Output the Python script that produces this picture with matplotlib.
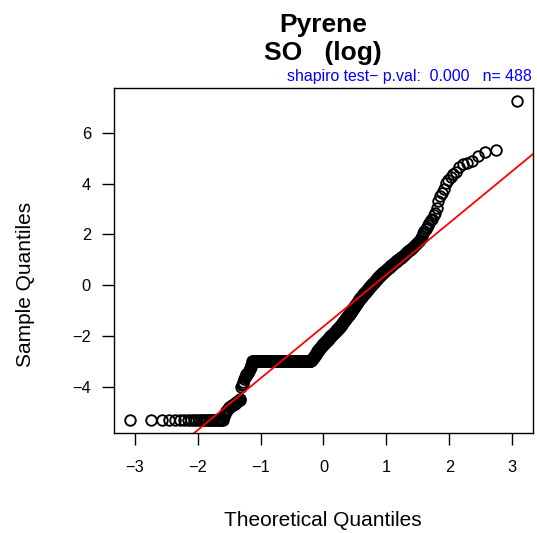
from statistics import NormalDist

import matplotlib
matplotlib.use('Agg')
import matplotlib.pyplot as plt
import numpy as np

plt.rcParams['font.family'] = ['Liberation Sans', 'DejaVu Sans']

title = 'Pyrene\nSO   (log)'
shapiro_pval = '0.000'

# sorted sample values (log scale), lowest to highest
low_tail = [-5.30] * 27
low_step = [-5.15, -5.05, -4.95, -4.90, -4.85, -4.80, -4.78, -4.75, -4.72, -4.70,
            -4.68, -4.65, -4.62, -4.60, -4.58, -4.55, -4.52, -4.50, -4.45]
mid_step = [-4.00, -3.90, -3.88, -3.80, -3.70, -3.60, -3.55, -3.50, -3.48, -3.45,
            -3.40, -3.35, -3.30, -3.25, -3.20, -3.15]
plateau = [-2.99] * 143
rising = [
    -2.95, -2.93, -2.92, -2.90, -2.88, -2.87, -2.85, -2.84, -2.82, -2.80,
    -2.78, -2.76, -2.74, -2.72, -2.70, -2.68, -2.66, -2.64, -2.62, -2.60,
    -2.59, -2.57, -2.56, -2.54, -2.53, -2.51, -2.50, -2.48, -2.47, -2.45, -2.44, -2.42,
    -2.40, -2.38, -2.37, -2.35, -2.33, -2.32, -2.30,
    -2.29, -2.27, -2.26, -2.25, -2.23, -2.22,
    -2.21, -2.20, -2.18, -2.17, -2.16, -2.14, -2.13, -2.12, -2.10, -2.09, -2.08, -2.06, -2.05,
    -2.04, -2.03, -2.01, -2.00, -1.99, -1.97, -1.96, -1.95, -1.94, -1.92, -1.91, -1.90,
    -1.89, -1.87, -1.86, -1.84, -1.83, -1.82, -1.80, -1.79, -1.77, -1.76, -1.75, -1.73, -1.72,
    -1.70, -1.69, -1.67, -1.66, -1.64, -1.62, -1.61, -1.59, -1.58, -1.56, -1.55, -1.53,
    -1.51, -1.49, -1.48, -1.46, -1.44, -1.42, -1.40, -1.39, -1.37, -1.35, -1.33, -1.32, -1.30,
    -1.28, -1.26, -1.24, -1.22, -1.20, -1.18, -1.16, -1.15, -1.13, -1.11, -1.09, -1.07,
    -1.05, -1.03, -1.01, -0.99, -0.97, -0.95, -0.93, -0.91, -0.88, -0.86, -0.84, -0.82, -0.80,
    -0.78, -0.76, -0.74, -0.72, -0.70, -0.68, -0.65, -0.63, -0.61, -0.59, -0.57, -0.55,
    -0.53, -0.51, -0.49, -0.47, -0.45, -0.44, -0.42, -0.40, -0.38, -0.36, -0.34, -0.32,
    -0.30, -0.29, -0.27, -0.25,
    -0.23, -0.21, -0.19, -0.17, -0.15, -0.13, -0.12, -0.10, -0.08,
    -0.06, -0.04, -0.02, 0.00, 0.02, 0.04, 0.06, 0.08, 0.10, 0.11, 0.13, 0.15, 0.17,
    0.19, 0.21, 0.23, 0.25, 0.27, 0.29, 0.31, 0.34, 0.36, 0.38, 0.40, 0.42,
    0.44, 0.46, 0.47, 0.49, 0.51, 0.53, 0.54, 0.56, 0.58, 0.60, 0.62, 0.63, 0.65,
    0.67, 0.69, 0.71, 0.73, 0.75, 0.77, 0.79, 0.81, 0.83, 0.84, 0.86, 0.88,
    0.90, 0.92, 0.94, 0.96, 0.98, 1.00, 1.02, 1.05, 1.07, 1.09, 1.11, 1.13, 1.15,
    1.18, 1.20, 1.23, 1.26, 1.29, 1.32, 1.34, 1.37, 1.40, 1.42, 1.45, 1.48,
    1.52, 1.56, 1.60, 1.64, 1.68, 1.72, 1.76, 1.80, 1.85,
]
high_tail = [1.95, 2.05, 2.12, 2.22, 2.30, 2.38, 2.45, 2.55, 2.62, 2.75,
             2.85, 3.05, 3.30, 3.50, 3.62, 3.80, 4.02, 4.12, 4.25, 4.36,
             4.45, 4.65, 4.76, 4.80, 4.88, 5.10, 5.22, 5.33, 7.25]

sample = np.array(low_tail + low_step + mid_step + plateau + rising + high_tail)
n = len(sample)

# theoretical quantiles as qqnorm does it (ppoints with a = 0.5)
nd = NormalDist()
theo = np.array([nd.inv_cdf((i - 0.5) / n) for i in range(1, n + 1)])

# qqline through the quartiles
q1, q3 = np.quantile(sample, [0.25, 0.75])
z1, z3 = nd.inv_cdf(0.25), nd.inv_cdf(0.75)
slope = (q3 - q1) / (z3 - z1)
intercept = q1 - slope * z1

fig = plt.figure(figsize=(5.37, 5.33), dpi=100)
ax = fig.add_axes([114 / 537, 1 - 433 / 533, (533 - 114) / 537, (433 - 88) / 533])

ax.plot(theo, sample, 'o', mfc='none', mec='black', ms=7.6, mew=1.35)
xr = theo.max() - theo.min()
yr = sample.max() - sample.min()
ax.set_xlim(theo.min() - 0.04 * xr, theo.max() + 0.04 * xr)
ax.set_ylim(sample.min() - 0.04 * yr, sample.max() + 0.04 * yr)
xs = np.array(ax.get_xlim())
ax.plot(xs, intercept + slope * xs, color='red', lw=1.3)

ax.set_xticks([-3, -2, -1, 0, 1, 2, 3])
ax.set_yticks([-4, -2, 0, 2, 4, 6])
ax.tick_params(direction='out', length=8.6, width=1.0, labelsize=11.8)
ax.tick_params(axis='x', pad=11)
ax.tick_params(axis='y', pad=8)
for s in ax.spines.values():
    s.set_linewidth(1.0)

fig.text(323 / 537, 1 - 521 / 533, 'Theoretical Quantiles', ha='center', va='center', fontsize=15)
fig.text(26 / 537, 1 - 284 / 533, 'Sample Quantiles', ha='center', va='center',
         rotation=90, fontsize=15)
fig.text(323 / 537, 1 - 39 / 533, title, ha='center', va='center', fontsize=19,
         fontweight='bold', linespacing=1.2)
fig.text(532 / 537, 1 - 77 / 533,
         'shapiro test\u2212 p.val:  ' + shapiro_pval + '   n= ' + str(n),
         ha='right', va='center', fontsize=11.4, color='blue')

fig.savefig('out.png', dpi=100)
